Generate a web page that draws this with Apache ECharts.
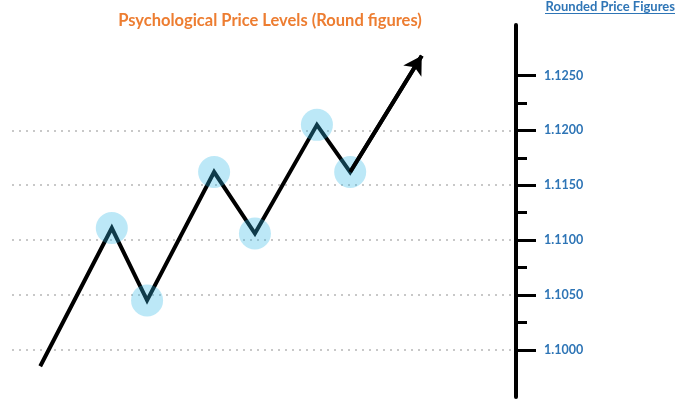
<!DOCTYPE html>
<html>
<head>
<meta charset="utf-8">
<script src="https://cdn.jsdelivr.net/npm/echarts@6/dist/echarts.min.js"></script>
<style>html,body{margin:0;padding:0;background:#fff;}#c{width:675px;height:402px;}</style>
</head>
<body>
<div id="c"></div>
<script>
// Data
const titleText = 'Psychological Price Levels (Round figures)';
const axisTitleText = 'Rounded Price Figures';
const pathX = [5.6, 19.8, 26.8, 40.1, 48.2, 60.5, 67.1, 81.3];
const pathPrice = [1.0985, 1.1111, 1.1045, 1.1162, 1.1106, 1.1205, 1.1162, 1.1268];
const circleIdx = [1, 2, 3, 4, 5, 6];
const majorLevels = [1.1000, 1.1050, 1.1100, 1.1150, 1.1200, 1.1250];
const minorLevels = [1.1025, 1.1075, 1.1125, 1.1175, 1.1225];
const dottedLevels = [1.1000, 1.1050, 1.1100, 1.1150, 1.1200];

const chart = echarts.init(document.getElementById('c'));
const pathData = pathX.map((x, i) => [x, pathPrice[i]]);
const lastN = pathData.length;
const circleData = circleIdx.map(i => pathData[i]);

const yMin = 1.0957, yMax = 1.1296;
const blue = '#2E75B6';
const H = 402, gTop = 25, gBottom = 5;
const gridBox = { left: 12, right: 159, top: gTop, bottom: gBottom };
// a third grid sharing the same price->pixel mapping, limited to the dotted levels
const pxOf = v => gTop + (yMax - v) / (yMax - yMin) * (H - gTop - gBottom);
const dMin = Math.min(...dottedLevels), dMax = Math.max(...dottedLevels);
const dotGrid = { left: 12, right: 163, top: pxOf(dMax), bottom: H - pxOf(dMin) };

chart.setOption({
  animation: false,
  backgroundColor: '#ffffff',
  title: {
    text: titleText,
    left: 265, top: 7, textAlign: 'center',
    textStyle: { color: '#ED7D31', fontFamily: 'Lato', fontWeight: 'bold', fontSize: 16.5 }
  },
  graphic: [
    { type: 'text', right: 0, top: 0,
      style: { text: axisTitleText, fill: blue, font: 'bold 13px Lato' } },
    { type: 'rect', right: 0, top: 13, shape: { width: 130, height: 1 }, style: { fill: blue } }
  ],
  grid: [Object.assign({}, gridBox), Object.assign({}, gridBox), dotGrid],
  xAxis: [
    { type: 'value', min: 0, max: 100, show: false, gridIndex: 0 },
    { type: 'value', min: 0, max: 100, show: false, gridIndex: 1 },
    { type: 'value', min: 0, max: 100, show: false, gridIndex: 2 }
  ],
  yAxis: [
    {
      type: 'value', gridIndex: 0, position: 'right', min: yMin, max: yMax,
      axisLine: { show: true, onZero: false, lineStyle: { color: '#000', width: 4 } },
      axisTick: { show: true, customValues: majorLevels, length: 20, lineStyle: { color: '#000', width: 3 } },
      axisLabel: { show: true, customValues: majorLevels, margin: 28,
        formatter: v => v.toFixed(4),
        color: blue, fontWeight: 'bold', fontSize: 12.5, fontFamily: 'Lato' },
      splitLine: { show: false }
    },
    {
      type: 'value', gridIndex: 1, position: 'right', min: yMin, max: yMax,
      axisLine: { show: false, onZero: false },
      axisTick: { show: true, customValues: minorLevels, length: 11, lineStyle: { color: '#000', width: 3 } },
      axisLabel: { show: false },
      splitLine: { show: false }
    },
    {
      type: 'value', gridIndex: 2, position: 'left', min: dMin, max: dMax, interval: 0.005,
      axisLine: { show: false, onZero: false },
      axisTick: { show: false },
      axisLabel: { show: false },
      splitLine: { show: true, lineStyle: { color: '#c8c8c8', width: 2.2, type: [2, 5] } }
    }
  ],
  series: [
    {
      type: 'line', data: pathData, symbol: 'none', z: 3,
      lineStyle: { color: '#000', width: 4, join: 'miter' },
      markLine: {
        silent: true, symbol: ['none', 'arrow'], symbolSize: [16, 18],
        label: { show: false },
        lineStyle: { color: '#000', width: 4, type: 'solid' },
        data: [[{ coord: pathData[lastN - 2] }, { coord: pathData[lastN - 1] }]]
      }
    },
    {
      type: 'scatter', data: circleData, symbolSize: 32, z: 4,
      itemStyle: { color: 'rgba(47,182,230,0.4)' }
    }
  ]
});
</script>
</body>
</html>
